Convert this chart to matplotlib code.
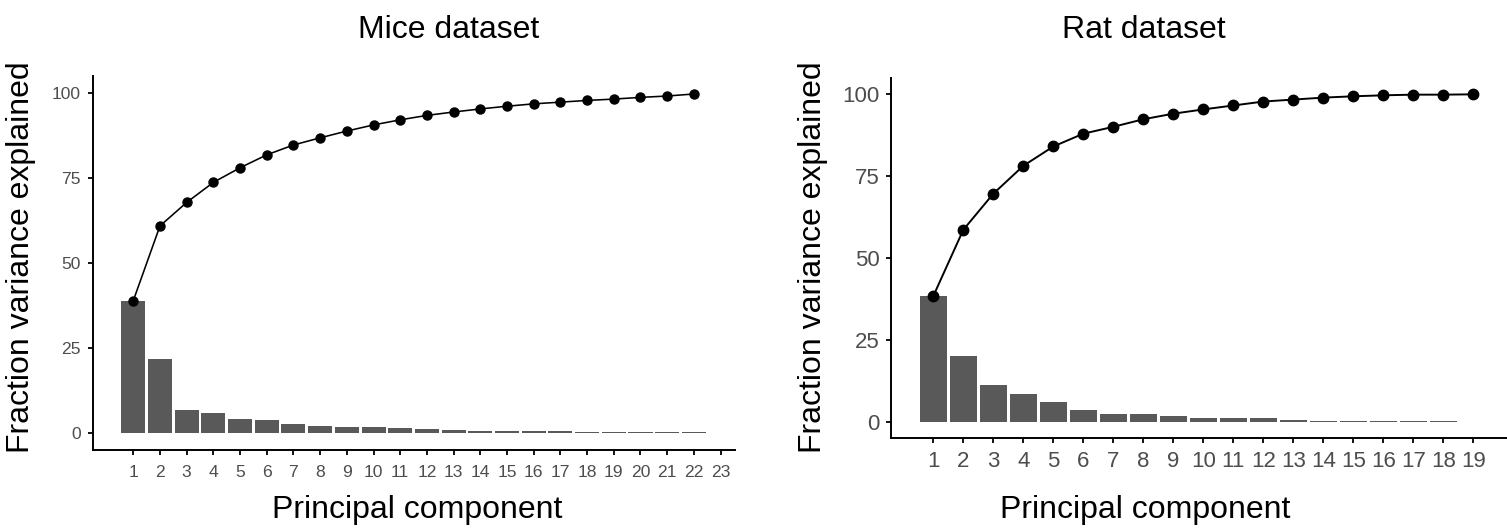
import matplotlib
matplotlib.use("Agg")
import matplotlib.pyplot as plt

plt.rcParams['font.family'] = ['Liberation Sans', 'DejaVu Sans']

# ---- data ----
mice_pc_ticks = list(range(1, 24))
mice_var = [39.0, 21.9, 6.95, 5.95, 4.3, 3.8, 2.85, 2.25, 1.75, 1.75, 1.45, 1.25,
            1.0, 0.7, 0.75, 0.6, 0.6, 0.5, 0.5, 0.5, 0.5, 0.3]
mice_cum = [39.0, 61.0, 67.9, 73.8, 78.1, 81.9, 84.8, 86.9, 88.9, 90.7, 92.2,
            93.5, 94.5, 95.4, 96.2, 96.9, 97.4, 97.9, 98.3, 98.8, 99.2, 99.8]

rat_pc_ticks = list(range(1, 20))
rat_var = [38.4, 20.2, 11.2, 8.5, 6.1, 3.65, 2.3, 2.3, 1.7, 1.2, 1.2, 1.2,
           0.7, 0.45, 0.45, 0.45, 0.25, 0.25]
rat_cum = [38.4, 58.6, 69.6, 78.1, 84.0, 87.9, 90.0, 92.3, 94.0, 95.3, 96.5,
           97.7, 98.3, 98.9, 99.3, 99.6, 99.8, 99.8, 99.9]

y_ticks = [0, 25, 50, 75, 100]

W, H = 1507, 531
fig = plt.figure(figsize=(W / 100, H / 100), dpi=100)

BAR = '#595959'
TICKC = '#4D4D4D'


def panel(rect, var, cum, ticks, xlim, ylim, tick_fs, ms, lw, xpad, ypad):
    ax = fig.add_axes(rect)
    xb = list(range(1, len(var) + 1))
    xc = list(range(1, len(cum) + 1))
    ax.bar(xb, var, width=0.9, color=BAR, edgecolor='none', zorder=2)
    ax.plot(xc, cum, color='black', lw=lw, marker='o', ms=ms, zorder=3)
    ax.set_xlim(*xlim)
    ax.set_ylim(*ylim)
    ax.set_xticks(ticks)
    ax.set_xticklabels([str(t) for t in ticks])
    ax.set_yticks(y_ticks)
    for s in ['top', 'right']:
        ax.spines[s].set_visible(False)
    for s in ['left', 'bottom']:
        ax.spines[s].set_linewidth(1.4)
        ax.spines[s].set_color('black')
    ax.tick_params(axis='both', length=3.8, width=1.3, color='black',
                   labelcolor=TICKC, labelsize=tick_fs)
    ax.tick_params(axis='x', pad=xpad)
    ax.tick_params(axis='y', pad=ypad)
    return ax


# left panel (Mice): 0 at y=433.3 px, 100 at y=93.3 px
panel([92.7 / W, 1 - 450.3 / H, (735 - 92.7) / W, (450.3 - 76.3) / H],
      mice_var, mice_cum, mice_pc_ticks, (-0.52, 23.54), (-5, 105),
      12.6, 6.5, 1.15, 6.5, 4.8)

# right panel (Rat): 0 at y=422 px, 100 at y=94 px
panel([891 / W, 1 - 438.4 / H, (1507 - 891) / W, (438.4 - 77.6) / H],
      rat_var, rat_cum, rat_pc_ticks, (-0.41, 20.12), (-5, 105),
      16.0, 7.5, 1.4, 5.5, 4.3)

TFS = 23
fig.text(449 / W, 1 - 38 / H, 'Mice dataset', ha='center', va='baseline', fontsize=TFS)
fig.text(1144 / W, 1 - 38 / H, 'Rat dataset', ha='center', va='baseline', fontsize=TFS)
fig.text(417 / W, 1 - 518 / H, 'Principal component', ha='center', va='baseline', fontsize=TFS)
fig.text(1145 / W, 1 - 518 / H, 'Principal component', ha='center', va='baseline', fontsize=TFS)
fig.text(21 / W, 1 - 257 / H, 'Fraction variance explained', ha='center', va='center',
         rotation=90, fontsize=TFS)
fig.text(813 / W, 1 - 257 / H, 'Fraction variance explained', ha='center', va='center',
         rotation=90, fontsize=TFS)

fig.savefig('out.png', dpi=100)
